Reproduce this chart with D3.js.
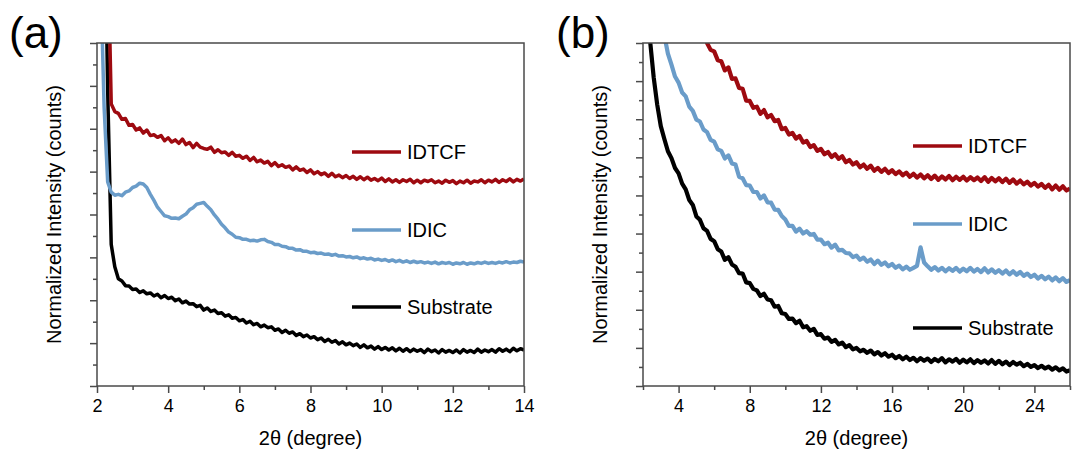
<!DOCTYPE html>
<html>
<head>
<meta charset="utf-8">
<script src="https://d3js.org/d3.v7.min.js"></script>
<style>
  body { margin: 0; background: #fff; }
  text { font-family: Arial, "Liberation Sans", sans-serif; }
</style>
</head>
<body>
<div id="my_dataviz"></div>
<script>
// ---- data ----
var seriesNames = ["IDTCF", "IDIC", "Substrate"];

// panel (a): 2theta grid 2.1 .. 14.0 in 0.1 steps
var thetaStartA = 2.1, thetaStepA = 0.1;
var idtcfA = [null, null, 10.5, 6.58, 6.40, 6.36, 6.22, 6.24, 6.08, 6.10,
  5.97, 6.02, 5.90, 5.97, 5.84, 5.86, 5.80, 5.84, 5.72, 5.79,
  5.69, 5.74, 5.66, 5.76, 5.63, 5.68, 5.56, 5.66, 5.57, 5.54,
  5.52, 5.57, 5.45, 5.51, 5.44, 5.46, 5.38, 5.45, 5.36, 5.38,
  5.31, 5.36, 5.26, 5.33, 5.23, 5.27, 5.20, 5.24, 5.14, 5.21,
  5.12, 5.16, 5.10, 5.13, 5.04, 5.11, 5.03, 5.06, 4.98, 5.04,
  4.95, 5.00, 4.93, 4.97, 4.89, 4.96, 4.88, 4.92, 4.86, 4.91,
  4.84, 4.89, 4.82, 4.88, 4.81, 4.87, 4.80, 4.84, 4.79, 4.85,
  4.77, 4.83, 4.76, 4.81, 4.75, 4.81, 4.77, 4.82, 4.74, 4.80,
  4.74, 4.80, 4.77, 4.81, 4.74, 4.78, 4.73, 4.80, 4.75, 4.79,
  4.72, 4.78, 4.74, 4.80, 4.73, 4.78, 4.76, 4.81, 4.74, 4.80,
  4.76, 4.82, 4.75, 4.81, 4.77, 4.83, 4.76, 4.82, 4.78, 4.83];
var idicA = [9.6, 6.5, 4.76, 4.52, 4.45, 4.47, 4.44, 4.52, 4.55, 4.63,
  4.66, 4.73, 4.71, 4.63, 4.47, 4.33, 4.17, 4.07, 3.97, 3.95,
  3.91, 3.92, 3.90, 3.96, 4.01, 4.11, 4.16, 4.24, 4.26, 4.28,
  4.19, 4.11, 3.99, 3.89, 3.77, 3.69, 3.59, 3.54, 3.47, 3.46,
  3.42, 3.42, 3.39, 3.40, 3.38, 3.41, 3.42, 3.37, 3.35, 3.30,
  3.30, 3.26, 3.25, 3.21, 3.21, 3.17, 3.18, 3.14, 3.14, 3.11,
  3.12, 3.09, 3.10, 3.07, 3.08, 3.05, 3.07, 3.03, 3.04, 3.01,
  3.02, 2.99, 3.01, 2.97, 2.99, 2.96, 2.98, 2.94, 2.96, 2.93,
  2.95, 2.91, 2.94, 2.90, 2.93, 2.89, 2.92, 2.88, 2.91, 2.88,
  2.90, 2.87, 2.89, 2.86, 2.89, 2.85, 2.88, 2.86, 2.88, 2.84,
  2.87, 2.85, 2.88, 2.84, 2.87, 2.85, 2.88, 2.86, 2.89, 2.86,
  2.88, 2.86, 2.89, 2.87, 2.90, 2.87, 2.89, 2.88, 2.91, 2.89];
var substrateA = [null, 12, 6.9, 3.3, 2.78, 2.50, 2.45, 2.34, 2.33, 2.25,
  2.26, 2.18, 2.22, 2.15, 2.17, 2.10, 2.14, 2.06, 2.11, 2.04,
  2.07, 1.99, 2.03, 1.94, 1.98, 1.91, 1.92, 1.85, 1.88, 1.77,
  1.82, 1.74, 1.77, 1.69, 1.71, 1.63, 1.66, 1.58, 1.60, 1.52,
  1.55, 1.47, 1.51, 1.43, 1.46, 1.38, 1.42, 1.36, 1.38, 1.30,
  1.33, 1.25, 1.30, 1.23, 1.26, 1.18, 1.22, 1.15, 1.19, 1.12,
  1.15, 1.08, 1.12, 1.04, 1.09, 1.02, 1.06, 0.98, 1.03, 0.96,
  1.00, 0.94, 0.98, 0.90, 0.96, 0.89, 0.93, 0.86, 0.92, 0.85,
  0.90, 0.84, 0.89, 0.82, 0.88, 0.81, 0.87, 0.80, 0.86, 0.81,
  0.85, 0.78, 0.86, 0.80, 0.84, 0.77, 0.85, 0.79, 0.83, 0.78,
  0.84, 0.77, 0.85, 0.79, 0.83, 0.78, 0.86, 0.79, 0.84, 0.80,
  0.85, 0.79, 0.87, 0.81, 0.86, 0.80, 0.88, 0.82, 0.87, 0.84];

// panel (b): 2theta grid 2.0 .. 26.0 in 0.2 steps
var thetaStartB = 2.0, thetaStepB = 0.2;
var idtcfB = [null, null, null, null, null, null, null, null, null, null,
  null, null, null, null, null, null, null, 9.3, 9.0, 8.82,
  8.78, 8.55, 8.52, 8.28, 8.36, 8.06, 8.07, 7.82, 7.80, 7.49,
  7.48, 7.30, 7.33, 7.14, 7.24, 7.05, 7.11, 6.95, 6.98, 6.74,
  6.77, 6.60, 6.64, 6.49, 6.56, 6.39, 6.43, 6.27, 6.32, 6.17,
  6.22, 6.08, 6.14, 6.01, 6.08, 5.96, 6.03, 5.87, 5.93, 5.81,
  5.87, 5.74, 5.81, 5.70, 5.78, 5.65, 5.72, 5.62, 5.70, 5.59,
  5.66, 5.56, 5.63, 5.53, 5.60, 5.49, 5.57, 5.47, 5.55, 5.45,
  5.53, 5.43, 5.52, 5.41, 5.50, 5.42, 5.51, 5.40, 5.49, 5.41,
  5.49, 5.39, 5.48, 5.40, 5.47, 5.38, 5.48, 5.36, 5.46, 5.37,
  5.45, 5.35, 5.44, 5.33, 5.42, 5.31, 5.39, 5.29, 5.36, 5.26,
  5.33, 5.23, 5.30, 5.20, 5.28, 5.16, 5.26, 5.15, 5.24, 5.13,
  5.18];
var idicB = [null, null, null, null, null, 9.6, 9.2, 8.72, 8.43, 8.12,
  7.96, 7.70, 7.60, 7.33, 7.22, 6.99, 6.94, 6.73, 6.66, 6.46,
  6.41, 6.21, 6.17, 5.97, 6.05, 5.84, 5.81, 5.49, 5.45, 5.27,
  5.26, 5.09, 5.09, 4.92, 5.00, 4.82, 4.81, 4.63, 4.62, 4.46,
  4.37, 4.20, 4.20, 4.05, 4.13, 4.00, 4.06, 3.97, 3.99, 3.84,
  3.84, 3.72, 3.76, 3.63, 3.71, 3.56, 3.57, 3.49, 3.48, 3.38,
  3.42, 3.31, 3.37, 3.26, 3.32, 3.20, 3.29, 3.18, 3.24, 3.14,
  3.20, 3.10, 3.16, 3.06, 3.13, 3.05, 3.10, 3.15, 3.64, 3.24,
  3.14, 3.05, 3.12, 3.03, 3.10, 3.01, 3.09, 3.02, 3.10, 3.00,
  3.08, 3.01, 3.10, 3.00, 3.07, 2.99, 3.09, 2.98, 3.06, 2.97,
  3.04, 2.95, 3.03, 2.93, 3.01, 2.92, 2.99, 2.89, 2.95, 2.86,
  2.92, 2.82, 2.89, 2.80, 2.87, 2.77, 2.85, 2.75, 2.83, 2.73,
  2.78];
var substrateB = [null, 9.9, 9.05, 8.1, 7.38, 6.82, 6.48, 6.16, 5.98, 5.72,
  5.58, 5.31, 5.16, 4.88, 4.75, 4.45, 4.36, 4.14, 4.07, 3.86,
  3.80, 3.59, 3.53, 3.31, 3.38, 3.19, 3.13, 2.96, 2.95, 2.72,
  2.70, 2.55, 2.51, 2.36, 2.42, 2.27, 2.25, 2.08, 2.10, 1.91,
  1.89, 1.76, 1.77, 1.65, 1.71, 1.54, 1.57, 1.45, 1.50, 1.34,
  1.36, 1.24, 1.27, 1.16, 1.21, 1.09, 1.14, 1.02, 1.07, 0.96,
  1.00, 0.91, 0.95, 0.87, 0.93, 0.83, 0.89, 0.80, 0.86, 0.77,
  0.82, 0.73, 0.79, 0.70, 0.77, 0.68, 0.74, 0.65, 0.73, 0.66,
  0.72, 0.63, 0.71, 0.65, 0.73, 0.62, 0.70, 0.64, 0.71, 0.61,
  0.69, 0.62, 0.70, 0.60, 0.68, 0.61, 0.67, 0.59, 0.68, 0.58,
  0.66, 0.57, 0.64, 0.55, 0.63, 0.56, 0.61, 0.52, 0.58, 0.50,
  0.55, 0.47, 0.53, 0.46, 0.51, 0.43, 0.49, 0.41, 0.46, 0.38,
  0.41];

// ticks
var xTicksA = [2, 4, 6, 8, 10, 12, 14];
var xMinorA = [3, 5, 7, 9, 11, 13];
var xTicksB = [4, 8, 12, 16, 20, 24];
var xMinorB = [2, 6, 10, 14, 18, 22, 26];
var yTicksA = [0, 1, 2, 3, 4, 5, 6, 7, 8];
var yMinorA = [0.5, 1.5, 2.5, 3.5, 4.5, 5.5, 6.5, 7.5];
var yTicksB = [0, 1, 2, 3, 4, 5, 6, 7, 8, 9];
var yMinorB = [0.5, 1.5, 2.5, 3.5, 4.5, 5.5, 6.5, 7.5, 8.5];

// ---- styles ----
var colors = {IDTCF: "#9e0a10", IDIC: "#6a9cc9", Substrate: "#000000"};
var axisColor = "#4a4a4a";
var fontFam = "Arial, 'Liberation Sans', sans-serif";

var width = 1073, height = 453;
var plotTop = 43, plotBottom = 386;

var svg = d3.select("#my_dataviz")
  .append("svg")
    .attr("width", width)
    .attr("height", height);

function toPoints(vals, start, step) {
  return vals.map(function(v, i) { return [+(start + i * step).toFixed(2), v]; });
}

function drawPanel(p) {
  var x = d3.scaleLinear().domain(p.xDomain).range([p.left, p.right]);
  var y = d3.scaleLinear().domain(p.yDomain).range([plotBottom, plotTop]);
  var g = svg.append("g");

  g.append("clipPath").attr("id", p.id + "-clip")
    .append("rect")
      .attr("x", p.left).attr("y", plotTop)
      .attr("width", p.right - p.left).attr("height", plotBottom - plotTop);

  var line = d3.line()
    .defined(function(d) { return d[1] != null; })
    .x(function(d) { return x(d[0]); })
    .y(function(d) { return y(d[1]); });

  // draw substrate first so coloured curves sit on top
  var order = ["Substrate", "IDIC", "IDTCF"];
  order.forEach(function(name) {
    g.append("path")
      .datum(toPoints(p.series[name], p.start, p.step))
      .attr("clip-path", "url(#" + p.id + "-clip)")
      .attr("fill", "none")
      .attr("stroke", colors[name])
      .attr("stroke-width", p.lineWidth)
      .attr("stroke-linejoin", "round")
      .attr("d", line);
  });

  // frame
  g.append("rect")
    .attr("x", p.left).attr("y", plotTop)
    .attr("width", p.right - p.left).attr("height", plotBottom - plotTop)
    .attr("fill", "none")
    .attr("stroke", axisColor)
    .attr("stroke-width", 1.5);

  // axes
  var xAxis = g.append("g")
    .attr("transform", "translate(0," + plotBottom + ")")
    .call(d3.axisBottom(x).tickValues(p.xTicks).tickSize(7).tickSizeOuter(0).tickPadding(6));
  var xMinor = g.append("g")
    .attr("transform", "translate(0," + plotBottom + ")")
    .call(d3.axisBottom(x).tickValues(p.xMinor).tickSize(4).tickSizeOuter(0).tickFormat(""));
  var yAxis = g.append("g")
    .attr("transform", "translate(" + p.left + ",0)")
    .call(d3.axisLeft(y).tickValues(p.yTicks).tickSize(7).tickSizeOuter(0).tickFormat(""));
  var yMinor = g.append("g")
    .attr("transform", "translate(" + p.left + ",0)")
    .call(d3.axisLeft(y).tickValues(p.yMinor).tickSize(4).tickSizeOuter(0).tickFormat(""));

  [xAxis, xMinor, yAxis, yMinor].forEach(function(a) {
    a.select(".domain").remove();
    a.selectAll("line").attr("stroke", axisColor).attr("stroke-width", 1.5);
  });
  xAxis.selectAll("text")
    .attr("fill", "#000")
    .attr("font-family", fontFam)
    .attr("font-size", 18);

  // axis titles
  g.append("text")
    .attr("x", (p.left + p.right) / 2)
    .attr("y", 445)
    .attr("text-anchor", "middle")
    .attr("font-size", 20)
    .text("2\u03B8 (degree)");

  g.append("text")
    .attr("transform", "translate(" + p.yTitleX + "," + ((plotTop + plotBottom) / 2) + ") rotate(-90)")
    .attr("text-anchor", "middle")
    .attr("font-size", 20)
    .text("Normalized Intensity (counts)");

  // panel letter
  g.append("text")
    .attr("x", p.labelX)
    .attr("y", 48)
    .attr("font-size", 44)
    .text(p.label);

  // legend
  seriesNames.forEach(function(name, i) {
    var ly = p.legendY[i];
    g.append("line")
      .attr("x1", p.legendX).attr("x2", p.legendX + 49)
      .attr("y1", ly).attr("y2", ly)
      .attr("stroke", colors[name])
      .attr("stroke-width", 3.5);
    g.append("text")
      .attr("x", p.legendX + 55)
      .attr("y", ly + 7.3)
      .attr("font-size", 20)
      .text(name);
  });
}

drawPanel({
  id: "a", label: "(a)", labelX: 9, lineWidth: 3.5,
  left: 97, right: 524, xDomain: [2, 14], yDomain: [0, 8],
  xTicks: xTicksA, xMinor: xMinorA, yTicks: yTicksA, yMinor: yMinorA,
  start: thetaStartA, step: thetaStepA,
  series: {IDTCF: idtcfA, IDIC: idicA, Substrate: substrateA},
  yTitleX: 61, legendX: 352, legendY: [152, 230, 307]
});

drawPanel({
  id: "b", label: "(b)", labelX: 556, lineWidth: 4.2,
  left: 643, right: 1070, xDomain: [2, 26], yDomain: [0, 9],
  xTicks: xTicksB, xMinor: xMinorB, yTicks: yTicksB, yMinor: yMinorB,
  start: thetaStartB, step: thetaStepB,
  series: {IDTCF: idtcfB, IDIC: idicB, Substrate: substrateB},
  yTitleX: 607, legendX: 913, legendY: [146, 224, 328]
});
</script>
</body>
</html>
